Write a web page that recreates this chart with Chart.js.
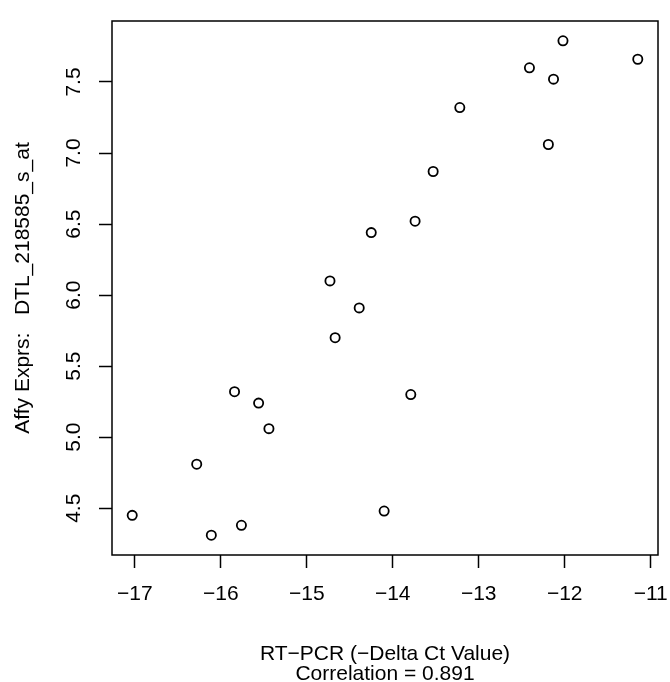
<!DOCTYPE html>
<html>
<head>
<meta charset="utf-8">
<script src="https://cdn.jsdelivr.net/npm/chart.js@4.4.1/dist/chart.umd.min.js"></script>
<style>
  html, body { margin: 0; padding: 0; background: #fff; }
  #wrap { width: 670px; height: 682px; }
</style>
</head>
<body>
<div id="wrap"><canvas id="MyChart"></canvas></div>
<script>
// RT-PCR (-Delta Ct) vs Affy expression
var rtpcr = [-17.03, -16.28, -16.11, -15.84, -15.76, -15.56, -15.44, -14.73, -14.67, -14.39, -14.25,
             -14.10, -13.79, -13.74, -13.53, -13.22, -12.41, -12.19, -12.13, -12.02, -11.15];
var affy = [4.45, 4.81, 4.31, 5.32, 4.38, 5.24, 5.06, 6.10, 5.70, 5.91, 6.44,
            4.48, 5.30, 6.52, 6.87, 7.32, 7.60, 7.06, 7.52, 7.79, 7.66];
var xTicks = [-17, -16, -15, -14, -13, -12, -11];
var yTicks = [4.5, 5.0, 5.5, 6.0, 6.5, 7.0, 7.5];

var xTitle = ['RT\u2212PCR (\u2212Delta Ct Value)', 'Correlation = 0.891'];
var yTitle = 'Affy Exprs:   DTL_218585_s_at';

var FONT = "'Liberation Sans', Arial, Helvetica, sans-serif";

// R style axis limits: data range stretched by 4% on each side
function rLimits(v) {
    var lo = Math.min.apply(null, v), hi = Math.max.apply(null, v);
    var d = (hi - lo) * 0.04;
    return [lo - d, hi + d];
}
var xLim = rLimits(rtpcr);
var yLim = rLimits(affy);

var points = rtpcr.map(function (x, i) { return { x: x, y: affy[i] }; });

function minus(s) { return String(s).replace('-', '\u2212'); }

var boxPlugin = {
    id: 'rbox',
    afterDraw: function (chart) {
        var ctx = chart.ctx, a = chart.chartArea;
        ctx.save();
        ctx.strokeStyle = '#000';
        ctx.lineWidth = 1.5;
        ctx.strokeRect(a.left, a.top, a.right - a.left, a.bottom - a.top);

        // y tick labels, rotated like R does (las = 0)
        var ys = chart.scales.y;
        ctx.fillStyle = '#000';
        ctx.font = '21px ' + FONT;
        ctx.textAlign = 'center';
        ctx.textBaseline = 'alphabetic';
        yTicks.forEach(function (t) {
            ctx.save();
            ctx.translate(80, ys.getPixelForValue(t));
            ctx.rotate(-Math.PI / 2);
            ctx.fillText(t.toFixed(1), 0, 0);
            ctx.restore();
        });
        ctx.restore();
    }
};

var ctx = document.getElementById('MyChart').getContext('2d');
var MyChart = new Chart(ctx, {
    type: 'scatter',
    data: {
        datasets: [{
            data: points,
            pointStyle: 'circle',
            pointRadius: 4.6,
            pointHoverRadius: 4.6,
            pointBorderWidth: 1.8,
            borderColor: '#000',
            backgroundColor: 'rgba(0,0,0,0)'
        }]
    },
    options: {
        responsive: true,
        maintainAspectRatio: false,
        animation: false,
        events: [],
        layout: { padding: { top: 21, right: 12, left: 0, bottom: 0 } },
        plugins: { legend: { display: false }, tooltip: { enabled: false } },
        scales: {
            x: {
                type: 'linear',
                min: xLim[0],
                max: xLim[1],
                afterBuildTicks: function (scale) {
                    scale.ticks = xTicks.map(function (v) { return { value: v }; });
                },
                afterFit: function (scale) {
                    scale.height = 127;
                    scale.paddingLeft = 0;
                    scale.paddingRight = 0;
                },
                border: { display: false },
                grid: { drawOnChartArea: false, drawTicks: true, tickLength: 13, tickColor: '#000', tickWidth: 1.5 },
                ticks: {
                    color: '#000',
                    font: { family: FONT, size: 21 },
                    padding: 14,
                    maxRotation: 0,
                    autoSkip: false,
                    callback: function (v) { return minus(v); }
                },
                title: {
                    display: true,
                    text: xTitle,
                    color: '#000',
                    font: { family: FONT, size: 21, lineHeight: 0.962 },
                    padding: { top: 0, bottom: -2.5 }
                }
            },
            y: {
                type: 'linear',
                min: yLim[0],
                max: yLim[1],
                afterBuildTicks: function (scale) {
                    scale.ticks = yTicks.map(function (v) { return { value: v }; });
                },
                afterFit: function (scale) {
                    scale.width = 112;
                    scale.paddingTop = 0;
                    scale.paddingBottom = 0;
                },
                border: { display: false },
                grid: { drawOnChartArea: false, drawTicks: true, tickLength: 13, tickColor: '#000', tickWidth: 1.5 },
                ticks: { display: false },
                title: {
                    display: true,
                    text: yTitle,
                    color: '#000',
                    font: { family: FONT, size: 21 },
                    padding: { top: 11, bottom: 0 }
                }
            }
        }
    },
    plugins: [boxPlugin]
});
</script>
</body>
</html>
